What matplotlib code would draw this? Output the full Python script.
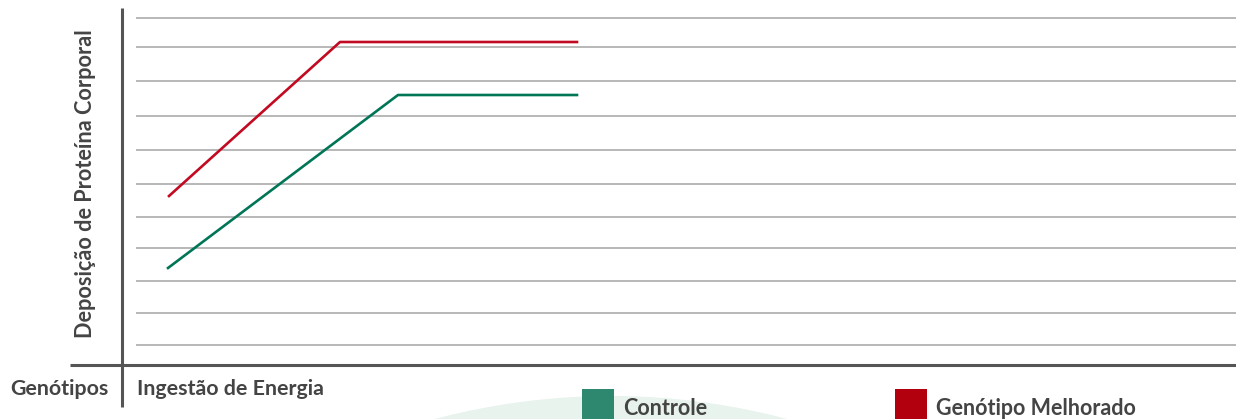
import matplotlib.pyplot as plt
from matplotlib.patches import Ellipse, Rectangle

# Deposição de proteína vs ingestão de energia (unidades arbitrárias)
series = ['Controle', 'Genótipo Melhorado']
energia_controle = [4.6, 27.6, 45.5]
proteina_controle = [9.7, 27.0, 27.0]
energia_melhorado = [4.7, 21.8, 45.5]
proteina_melhorado = [16.9, 32.3, 32.3]
grid_y = [2.0, 5.2, 8.4, 11.7, 14.8, 18.1, 21.5, 24.9, 28.4, 31.8, 34.7]

line_colors = ['#007657', '#C20A22']
legend_colors = ['#2E8870', '#B2000F']
text_color = '#444444'
axis_color = '#555555'

plt.rcParams['font.family'] = ['Lato', 'DejaVu Sans']
plt.rcParams['font.weight'] = 'bold'

W, H = 1236, 419
fig = plt.figure(figsize=(W / 100, H / 100), dpi=100)

def fx(px):
    return px / W

def fy(py):
    return 1 - py / H

# axes area: from vertical axis (x=122) to the right edge, x-axis at y=365
ax = fig.add_axes([fx(122), fy(365), fx(W - 122), (365 - 8) / H])
ax.set_xlim(0, 111.4)
ax.set_ylim(0, 35.7)
ax.set_facecolor('none')
for s in ax.spines.values():
    s.set_visible(False)
ax.set_xticks([])
ax.set_yticks([])

# ---------- grid ----------
ax.hlines(grid_y, 1.4, 111.4, color='#ABABAB', lw=1.2, zorder=1)

# ---------- axis lines ----------
ax.plot([0, 0], [-4.2, 35.7], color=axis_color, lw=2.2, clip_on=False,
        solid_capstyle='butt', zorder=3)
ax.plot([-5.2, 111.4], [0, 0], color=axis_color, lw=2.2, clip_on=False,
        solid_capstyle='butt', zorder=3)

# ---------- data ----------
ax.plot(energia_controle, proteina_controle, color=line_colors[0], lw=1.9,
        zorder=4)
ax.plot(energia_melhorado, proteina_melhorado, color=line_colors[1], lw=1.9,
        zorder=4)

# ---------- labels ----------
fig.text(fx(86), fy(184), 'Deposição de Proteína Corporal', rotation=90,
         ha='center', va='center', fontsize=15.6, color=text_color)
fig.text(fx(10), fy(395), 'Genótipos', ha='left', va='baseline',
         fontsize=15.4, color=text_color)
fig.text(fx(137), fy(395), 'Ingestão de Energia', ha='left', va='baseline',
         fontsize=15.4, color=text_color)

# background decoration
bg = Ellipse((fx(611), fy(1081)), 2 * 685 / W, 2 * 685 / H,
             transform=fig.transFigure, facecolor='#E7F3EC', edgecolor='none',
             zorder=-5)
fig.patches.append(bg)

# ---------- legend ----------
legend_x = [582, 895]
for name, col, x0 in zip(series, legend_colors, legend_x):
    fig.patches.append(Rectangle((fx(x0), 0), 32 / W, 30 / H,
                                 transform=fig.transFigure, facecolor=col,
                                 edgecolor='none', zorder=2))
    fig.text(fx(x0 + 41), fy(415), name, ha='left', va='baseline',
             fontsize=15.5, color=text_color)

fig.savefig('out.png', dpi=100)
